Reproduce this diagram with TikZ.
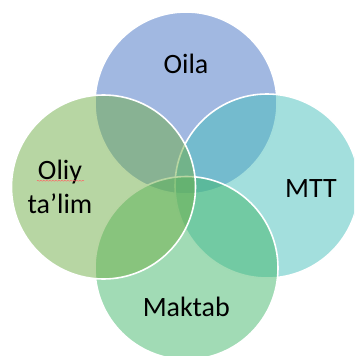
\documentclass[tikz,border=0pt]{standalone}
\usepackage{fontspec}
\setmainfont{Carlito}
\usetikzlibrary{decorations.pathmorphing}
\definecolor{cOila}{RGB}{68,114,196}
\definecolor{cMTT}{RGB}{71,191,187}
\definecolor{cMaktab}{RGB}{67,183,107}
\definecolor{cOliy}{RGB}{112,173,71}
\tikzset{
  venn/.style={circle, inner sep=0pt, minimum size=#1, draw=white, line width=1.6pt, fill opacity=0.5, draw opacity=1},
  lbl/.style={inner sep=0pt, font=\fontsize{28}{34}\selectfont, text=black, align=center}
}
\begin{document}
\begin{tikzpicture}[x=1pt,y=-1pt]
\useasboundingbox (0,0) rectangle (354,356);
\clip (0,0) rectangle (354,356);
\node[venn=182pt, fill=cOila] (cirOila) at (186,103) {};
\node[venn=184pt, fill=cMTT] (cirMTT) at (267,186) {};
\node[venn=183pt, fill=cMaktab] (cirMaktab) at (186.5,268) {};
\node[venn=184pt, fill=cOliy] (cirOliy) at (103.5,187) {};
\node[lbl, anchor=base] (tOila) at (186,73.5) {Oila};
\node[lbl, anchor=base] (tMTT) at (311,197) {MTT};
\node[lbl, anchor=base] (tMaktab) at (186.3,316.5) {Maktab};
\node[lbl, anchor=center] (tOliy) at (60,187) {Oliy\\ta’lim};
\coordinate (sqA) at (37,180.8);
\coordinate (sqB) at (84,180.8);
\draw[red!60!white, line width=0.5pt, decorate, decoration={snake, amplitude=0.4pt, segment length=3pt}] (sqA) -- (sqB);
\end{tikzpicture}
\end{document}
